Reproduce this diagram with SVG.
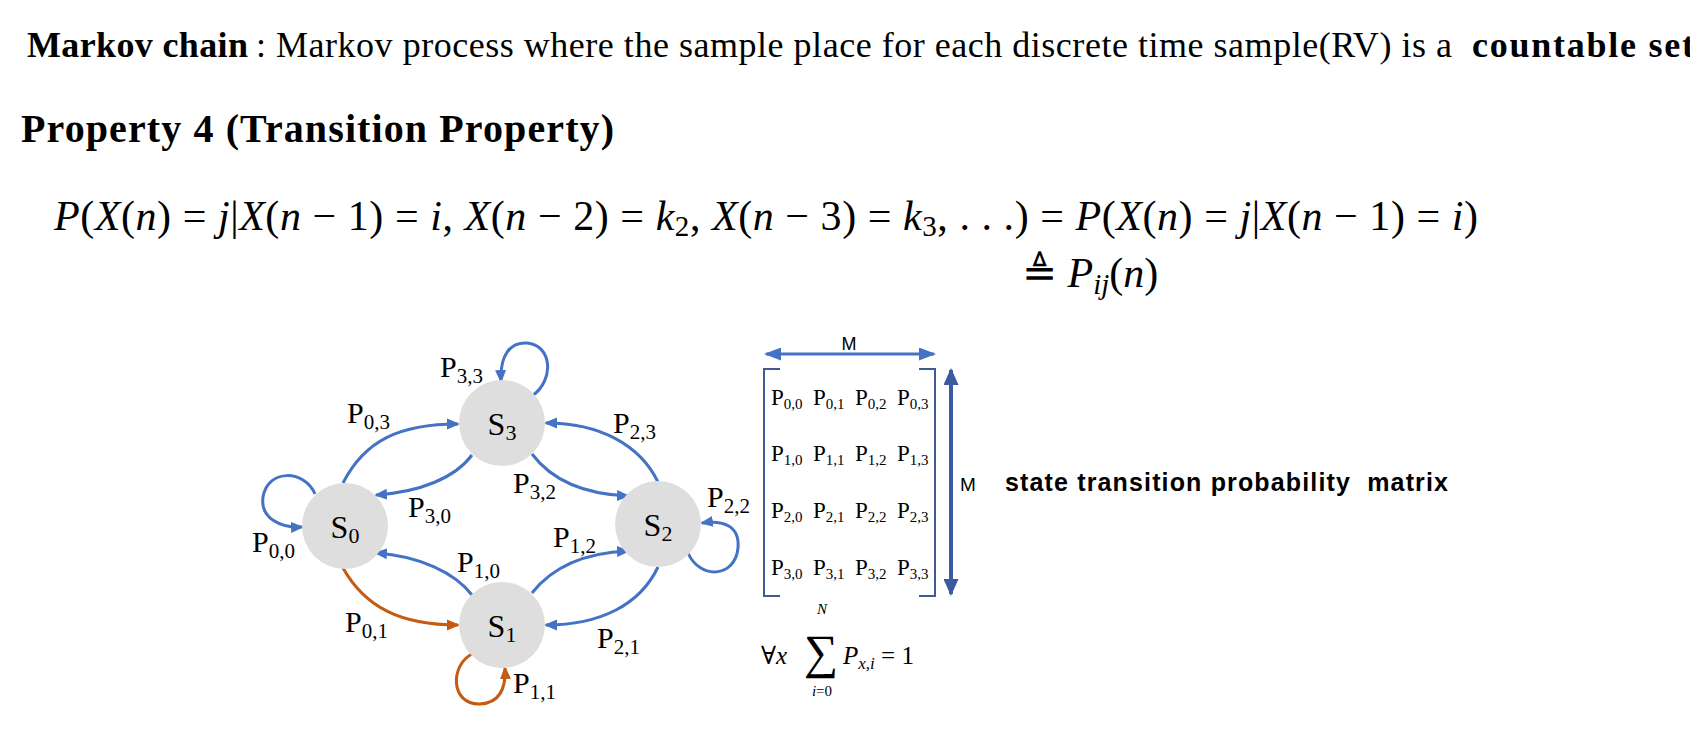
<svg xmlns="http://www.w3.org/2000/svg" width="1690" height="734" viewBox="0 0 1690 734">
<style>
.hd{font-family:"Liberation Serif","DejaVu Serif",serif;font-size:36px;fill:#000}
.b{font-weight:bold}
.prop{font-family:"Liberation Serif","DejaVu Serif",serif;font-size:40px;font-weight:bold;fill:#000}
.eq{font-family:"Liberation Serif","DejaVu Serif",serif;font-size:42px;fill:#000}
.it{font-style:italic}
.es{font-size:29px}
.node circle{fill:#dedede}
.nl{font-family:"Liberation Serif","DejaVu Serif",serif;font-size:32px;fill:#000;text-anchor:middle}
.ns{font-size:22px}
.pl{font-family:"Liberation Serif","DejaVu Serif",serif;font-size:30px;fill:#000}
.ps{font-size:21px}
.mx{font-family:"Liberation Serif","DejaVu Serif",serif;font-size:23px;fill:#000}
.ms{font-size:15px}
.e{fill:none;stroke-width:3}
.bl{stroke:#4472c4}
.or{stroke:#c55a11}
.sans{font-family:"Liberation Sans","DejaVu Sans",sans-serif;fill:#000}
</style>
<defs>
<marker id="ab" markerUnits="userSpaceOnUse" markerWidth="14" markerHeight="12" refX="11" refY="6" orient="auto"><path d="M0,0.5 L13,6 L0,11.5 z" fill="#4472c4"/></marker>
<marker id="ao" markerUnits="userSpaceOnUse" markerWidth="14" markerHeight="12" refX="11" refY="6" orient="auto"><path d="M0,0.5 L13,6 L0,11.5 z" fill="#c55a11"/></marker>
<marker id="hb" markerUnits="userSpaceOnUse" markerWidth="17" markerHeight="13" refX="15" refY="6.5" orient="auto-start-reverse"><path d="M0,0 L17,6.5 L0,13 z" fill="#4472c4"/></marker>
<marker id="vb" markerUnits="userSpaceOnUse" markerWidth="17" markerHeight="15" refX="15" refY="7.5" orient="auto-start-reverse"><path d="M0,0 L17,7.5 L0,15 z" fill="#3a5ba0"/></marker>
</defs>

<g id="header">
<text class="hd" y="57"><tspan class="b" x="27" textLength="221">Markov chain</tspan><tspan x="256">:</tspan><tspan x="276" textLength="1176">Markov process where the sample place for each discrete time sample(RV) is a</tspan><tspan class="b" x="1472" textLength="222">countable set</tspan></text>
<text class="prop" x="21" y="142" textLength="593">Property 4 (Transition Property)</text>
</g>

<g id="equation">
<text class="eq" x="54" y="230" textLength="1424"><tspan class="it">P</tspan>(<tspan class="it">X</tspan>(<tspan class="it">n</tspan>) = <tspan class="it">j</tspan>|<tspan class="it">X</tspan>(<tspan class="it">n</tspan> − 1) = <tspan class="it">i</tspan>, <tspan class="it">X</tspan>(<tspan class="it">n</tspan> − 2) = <tspan class="it">k</tspan><tspan class="es" dy="6">2</tspan><tspan dy="-6">, </tspan><tspan class="it">X</tspan>(<tspan class="it">n</tspan> − 3) = <tspan class="it">k</tspan><tspan class="es" dy="6">3</tspan><tspan dy="-6">, . . .) = </tspan><tspan class="it">P</tspan>(<tspan class="it">X</tspan>(<tspan class="it">n</tspan>) = <tspan class="it">j</tspan>|<tspan class="it">X</tspan>(<tspan class="it">n</tspan> − 1) = <tspan class="it">i</tspan>)</text>
<text class="eq" x="1022" y="287">≜ <tspan class="it">P</tspan><tspan class="es it" dy="7">ij</tspan><tspan dy="-7">(</tspan><tspan class="it">n</tspan>)</text>
</g>

<g id="connectors">
<path class="e bl" d="M343,483 C365,440 400,424 458,424" marker-end="url(#ab)"/>
<path class="e bl" d="M472,455 C455,478 420,492 376,495" marker-end="url(#ab)"/>
<path class="e bl" d="M472,595 C455,573 420,556 376,553" marker-end="url(#ab)"/>
<path class="e or" d="M343,568 C365,607 400,625 458,625" marker-end="url(#ao)"/>
<path class="e bl" d="M658,482 C640,445 600,423 546,423" marker-end="url(#ab)"/>
<path class="e bl" d="M532,454 C550,478 580,494 628,496" marker-end="url(#ab)"/>
<path class="e bl" d="M532,593 C550,570 580,553 628,551" marker-end="url(#ab)"/>
<path class="e bl" d="M658,567 C640,605 600,625 546,625" marker-end="url(#ab)"/>
<path class="e bl" d="M315,494 C305,470 268,468 263,497 C260,518 280,528 302,527" marker-end="url(#ab)"/>
<path class="e bl" d="M532,396 C555,380 552,345 527,343 C510,342 500,355 501,381" marker-end="url(#ab)"/>
<path class="e bl" d="M688,553 C700,580 735,578 738,548 C740,525 722,520 702,523" marker-end="url(#ab)"/>
<path class="e or" d="M472,654 C450,665 450,705 480,704 C500,703 506,688 505,668" marker-end="url(#ao)"/>
</g>

<g id="edge-labels">
<text class="pl" x="440" y="377">P<tspan class="ps" dy="6">3,3</tspan></text>
<text class="pl" x="347" y="423">P<tspan class="ps" dy="6">0,3</tspan></text>
<text class="pl" x="408" y="517">P<tspan class="ps" dy="6">3,0</tspan></text>
<text class="pl" x="252" y="552">P<tspan class="ps" dy="6">0,0</tspan></text>
<text class="pl" x="457" y="572">P<tspan class="ps" dy="6">1,0</tspan></text>
<text class="pl" x="345" y="632">P<tspan class="ps" dy="6">0,1</tspan></text>
<text class="pl" x="513" y="693">P<tspan class="ps" dy="6">1,1</tspan></text>
<text class="pl" x="597" y="648">P<tspan class="ps" dy="6">2,1</tspan></text>
<text class="pl" x="553" y="547">P<tspan class="ps" dy="6">1,2</tspan></text>
<text class="pl" x="707" y="507">P<tspan class="ps" dy="6">2,2</tspan></text>
<text class="pl" x="513" y="493">P<tspan class="ps" dy="6">3,2</tspan></text>
<text class="pl" x="613" y="433">P<tspan class="ps" dy="6">2,3</tspan></text>
</g>

<g id="S3" class="node"><circle cx="502" cy="423" r="43"/><text class="nl" x="502" y="435">S<tspan class="ns" dy="5">3</tspan></text></g>
<g id="S0" class="node"><circle cx="345" cy="526" r="43"/><text class="nl" x="345" y="538">S<tspan class="ns" dy="5">0</tspan></text></g>
<g id="S2" class="node"><circle cx="658" cy="524" r="43"/><text class="nl" x="658" y="536">S<tspan class="ns" dy="5">2</tspan></text></g>
<g id="S1" class="node"><circle cx="502" cy="625" r="43"/><text class="nl" x="502" y="637">S<tspan class="ns" dy="5">1</tspan></text></g>

<g id="matrix">
<path d="M780,369 H764 V596 H780 M919,369 H935 V596 H919" fill="none" stroke="#3f5b8f" stroke-width="2"/>
<line x1="766" y1="354" x2="934" y2="354" stroke="#4472c4" stroke-width="3" marker-start="url(#hb)" marker-end="url(#hb)"/>
<text class="sans" x="849" y="350" font-size="18" text-anchor="middle">M</text>
<line x1="951" y1="370" x2="951" y2="594" stroke="#3a5ba0" stroke-width="4" marker-start="url(#vb)" marker-end="url(#vb)"/>
<text class="sans" x="960" y="491" font-size="19">M</text>
<text class="sans" x="1005" y="491" font-size="25" font-weight="bold" textLength="443" style="white-space:pre">state transition probability  matrix</text>
<g class="mx">
<text x="771" y="405">P<tspan class="ms" dy="4">0,0</tspan></text>
<text x="813" y="405">P<tspan class="ms" dy="4">0,1</tspan></text>
<text x="855" y="405">P<tspan class="ms" dy="4">0,2</tspan></text>
<text x="897" y="405">P<tspan class="ms" dy="4">0,3</tspan></text>
<text x="771" y="461">P<tspan class="ms" dy="4">1,0</tspan></text>
<text x="813" y="461">P<tspan class="ms" dy="4">1,1</tspan></text>
<text x="855" y="461">P<tspan class="ms" dy="4">1,2</tspan></text>
<text x="897" y="461">P<tspan class="ms" dy="4">1,3</tspan></text>
<text x="771" y="518">P<tspan class="ms" dy="4">2,0</tspan></text>
<text x="813" y="518">P<tspan class="ms" dy="4">2,1</tspan></text>
<text x="855" y="518">P<tspan class="ms" dy="4">2,2</tspan></text>
<text x="897" y="518">P<tspan class="ms" dy="4">2,3</tspan></text>
<text x="771" y="575">P<tspan class="ms" dy="4">3,0</tspan></text>
<text x="813" y="575">P<tspan class="ms" dy="4">3,1</tspan></text>
<text x="855" y="575">P<tspan class="ms" dy="4">3,2</tspan></text>
<text x="897" y="575">P<tspan class="ms" dy="4">3,3</tspan></text>
</g>
<g font-family="Liberation Serif, DejaVu Serif, serif" fill="#000">
<text x="761" y="664" font-size="25">∀<tspan font-style="italic">x</tspan></text>
<text x="821" y="668" font-size="48" text-anchor="middle">∑</text>
<text x="822" y="614" font-size="15" font-style="italic" text-anchor="middle">N</text>
<text x="822" y="696" font-size="15" text-anchor="middle"><tspan font-style="italic">i</tspan>=0</text>
<text x="843" y="664" font-size="25"><tspan font-style="italic">P</tspan><tspan font-size="17" font-style="italic" dy="5">x,i</tspan><tspan dy="-5"> = 1</tspan></text>
</g>
</g>
</svg>
